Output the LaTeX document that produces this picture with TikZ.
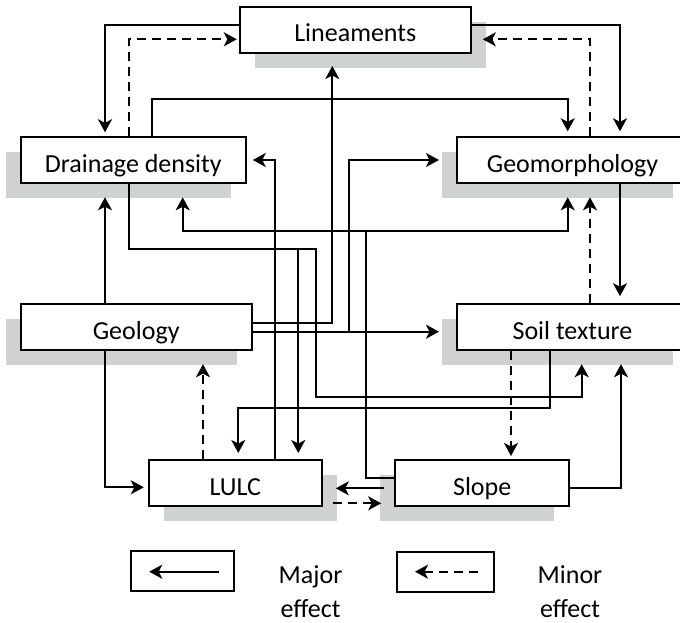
\documentclass[tikz,border=0pt]{standalone}
\usepackage{fontspec}
\setmainfont{Carlito}
\usetikzlibrary{arrows.meta,calc,shadows}
\definecolor{shadowgray}{RGB}{208,210,210}
\begin{document}
\begin{tikzpicture}[x=1pt,y=-1pt,
  box/.style={draw, line width=2pt, fill=white, inner sep=0pt,
    minimum height=46pt, text height=24pt, text depth=0pt,
    font=\fontsize{26}{31}\selectfont},
  shadowleft/.style={drop shadow={shadow xshift=-15pt, shadow yshift=-15pt,
    fill=shadowgray, opacity=1}},
  shadowright/.style={drop shadow={shadow xshift=15pt, shadow yshift=-15pt,
    fill=shadowgray, opacity=1}},
  keybox/.style={draw, line width=2pt, inner sep=0pt, minimum height=40pt},
  majorfx/.style={line width=2pt, -{Stealth[length=13pt,width=14pt,inset=3.5pt]}},
  minorfx/.style={majorfx, dash pattern=on 9pt off 6pt},
  legendtext/.style={font=\fontsize{26}{31}\selectfont, anchor=base,
    inner sep=1pt, text depth=0pt}]

\clip (0,0) rectangle (680,623);

% factor boxes
\node[box, shadowright, minimum width=231pt] (lin)   at (355.3,30)    {Lineaments};
\node[box, shadowleft,  minimum width=225pt] (dd)    at (133.3,160.3) {Drainage density};
\node[box, shadowleft,  minimum width=231pt] (geom)  at (572.5,160.3) {Geomorphology};
\node[box, shadowleft,  minimum width=231pt] (geo)   at (136.2,327.2) {Geology};
\node[box, shadowleft,  minimum width=231pt] (soil)  at (572.5,327.2) {Soil texture};
\node[box, shadowright, minimum width=173pt] (lulc)  at (235.3,483)   {LULC};
\node[box, shadowleft,  minimum width=174pt] (slope) at (482.2,483)   {Slope};

% Lineaments links
\draw[majorfx] (lin.west |- 0,25) -| ($(dd.north -| 105,0)+(0,-4)$);
\draw[minorfx] (dd.north -| 129.3,0) |- ($(lin.west |- 0,39.3)+(-2,0)$);
\draw[majorfx] (lin.east |- 0,25) -| ($(geom.north -| 620,0)+(0,-5)$);
\draw[minorfx] (geom.north -| 590,0) |- ($(lin.east |- 0,39.3)+(11,0)$);

% Drainage density links
\draw[majorfx] (dd.north -| 152,0) -- (152,99) -| ($(geom.north -| 567.7,0)+(0,-5)$);
\draw[majorfx] (dd.south -| 129.3,0) |- (298.3,249) -- ($(lulc.north -| 298.3,0)+(0,-6)$);
\draw[majorfx] (dd.south -| 129.3,0) |- (315.7,249) |- (581.7,396.7)
  -- ($(soil.south -| 581.7,0)+(0,13)$);

% LULC links
\draw[majorfx] (lulc.north -| 275.3,0) |- ($(dd.east |- 0,160)+(6,0)$);
\draw[minorfx] (lulc.north -| 203,0) -- ($(geo.south -| 203,0)+(0,13)$);
\draw[minorfx] ($(lulc.east |- 0,503.3)+(10,0)$) -- ($(slope.west |- 0,503.3)+(-13,0)$);

% Geology links
\draw[majorfx] (geo.north -| 105,0) -- ($(dd.south -| 105,0)+(0,13)$);
\draw[majorfx] (geo.east |- 0,322.7) -| ($(lin.south -| 332.3,0)+(0,12)$);
\draw[majorfx] (geo.east |- 0,331.7) -- ($(soil.west |- 0,331.7)+(-17,0)$);
\draw[majorfx] (geo.east |- 0,331.7) -| (349.3,160) -- ($(geom.west |- 0,160)+(-17,0)$);
\draw[majorfx] (geo.south -| 105,0) |- ($(lulc.west |- 0,487.3)+(-4,0)$);

% Slope links
\draw[majorfx] (slope.west |- 0,477.7) -| (366,230.7) -| ($(dd.south -| 182.7,0)+(0,13)$);
\draw[majorfx] (slope.west |- 0,477.7) -| (366,230.7) -| ($(geom.south -| 567.7,0)+(0,13)$);
\draw[majorfx] ($(slope.west |- 0,488.3)+(-10,0)$) -- ($(lulc.east |- 0,488.3)+(13,0)$);
\draw[majorfx] (slope.east |- 0,487.7) -| ($(soil.south -| 621,0)+(0,13)$);

% Soil texture and Geomorphology links
\draw[majorfx] (soil.south -| 550,0) |- (238.3,408.3) -- ($(lulc.north -| 238.3,0)+(0,-6)$);
\draw[minorfx] (soil.south -| 511,0) -- ($(slope.north -| 511,0)+(0,-3)$);
\draw[majorfx] (geom.south -| 620,0) -- ($(soil.north -| 620,0)+(0,-7)$);
\draw[minorfx] (soil.north -| 590,0) -- ($(geom.south -| 590,0)+(0,13)$);

% legend
\node[keybox, minimum width=103pt] (keymajor) at (182.7,571) {};
\node[keybox, minimum width=97pt]  (keyminor) at (445.8,571.7) {};
\draw[majorfx] ($(keymajor.east)+(-16,0.7)$) -- ($(keymajor.west)+(19,0.7)$);
\draw[minorfx] ($(keyminor.east)+(-17.6,0)$) -- ($(keyminor.west)+(18.7,0)$);
\node[legendtext] (majora) at (310.5,583) {Major};
\node[legendtext] (majorb) at (310.5,617) {effect};
\node[legendtext] (minora) at (570,583) {Minor};
\node[legendtext] (minorb) at (570,617) {effect};
\end{tikzpicture}
\end{document}
